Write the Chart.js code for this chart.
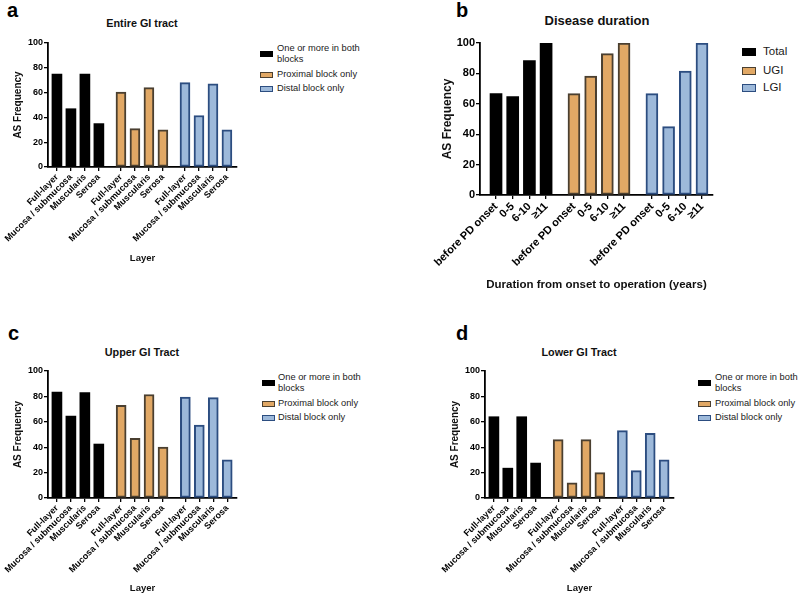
<!DOCTYPE html>
<html>
<head>
<meta charset="utf-8">
<script src="https://cdn.jsdelivr.net/npm/chart.js@4.4.1/dist/chart.umd.min.js"></script>
<style>
  body { margin: 0; background: #fff; font-family: 'Liberation Sans', Arial, sans-serif; }
  #fig { position: relative; width: 800px; height: 595px; overflow: hidden; }
  .box { position: absolute; }
  .letter { position: absolute; font-weight: bold; font-size: 20px; line-height: 1; color: #000; }
  .ttl { position: absolute; font-weight: bold; white-space: nowrap; color: #111; transform: translate(-50%, -50%); }
  .leg-sw { position: absolute; box-sizing: border-box; }
  .leg-tx { position: absolute; color: #1a1a1a; line-height: 11px; }
</style>
</head>
<body>
<div id="fig"></div>
<script>
// ---- data ----
const LAYERS = ['Full-layer', 'Mucosa / submucosa', 'Muscularis', 'Serosa'];
const DURATIONS = ['before PD onset', '0-5', '6-10', '≥11'];
const BLOCK_SERIES = ['One or more in both blocks', 'Proximal block only', 'Distal block only'];
const SITE_SERIES = ['Total', 'UGI', 'LGI'];

const ENTIRE_BOTH = [75, 47, 75, 35];
const ENTIRE_PROX = [60.5, 31, 64, 30];
const ENTIRE_DIST = [68, 41.5, 67, 30];

const DUR_TOTAL = [66.7, 64.7, 88.5, 100];
const DUR_UGI   = [66.7, 78.3, 93, 100];
const DUR_LGI   = [66.7, 45, 81.5, 100];

const UPPER_BOTH = [83.5, 64.5, 83, 42.5];
const UPPER_PROX = [73, 47, 81.5, 40];
const UPPER_DIST = [79.5, 57.5, 79, 30];

const LOWER_BOTH = [64, 23.5, 64, 27.5];
const LOWER_PROX = [46, 12, 46, 20];
const LOWER_DIST = [53, 21.5, 51, 30];

const Y_TICKS = [0, 20, 40, 60, 80, 100];

// ---- style ----
const FILLS = ['#000000', '#E1A865', '#9DB9DA'];
const EDGES = ['#000000', '#4A3F30', '#2C4D80'];
const FONT = "'Liberation Sans', Arial, sans-serif";

const fig = document.getElementById('fig');

function addText(cls, text, x, y, size) {
    const el = document.createElement('div');
    el.className = cls;
    el.textContent = text;
    el.style.left = x + 'px';
    el.style.top = y + 'px';
    if (size) el.style.fontSize = size + 'px';
    fig.appendChild(el);
}

function addLegend(names, sx, tx, rows, swW, swH, size, width) {
    names.forEach((name, g) => {
        const sw = document.createElement('div');
        sw.className = 'leg-sw';
        sw.style.cssText += `left:${sx}px;top:${rows[g].sw - swH / 2}px;width:${swW}px;height:${swH}px;` +
            `background:${FILLS[g]};border:${g ? 1.7 : 0}px solid ${EDGES[g]};`;
        fig.appendChild(sw);
        const t = document.createElement('div');
        t.className = 'leg-tx';
        t.textContent = name;
        t.style.cssText += `left:${tx}px;top:${rows[g].tx}px;font-size:${size}px;width:${width}px;line-height:${size + 1.5}px;`;
        fig.appendChild(t);
    });
}

// p: box (page px), area (page px), series, labels, group step, font sizes
function buildPanel(p) {
    const wrap = document.createElement('div');
    wrap.className = 'box';
    wrap.style.cssText += `left:${p.box.x}px;top:${p.box.y}px;width:${p.box.w}px;height:${p.box.h}px;`;
    const canvas = document.createElement('canvas');
    wrap.appendChild(canvas);
    fig.appendChild(wrap);

    const positions = [];
    const tickLabels = [];
    const datasets = p.series.map((vals, g) => {
        vals.forEach((v, i) => { positions.push(g * p.groupStep + i); tickLabels.push(p.labels[i]); });
        return {
            label: p.names[g],
            data: vals.map((v, i) => ({ x: g * p.groupStep + i, y: v })),
            backgroundColor: FILLS[g],
            borderColor: EDGES[g],
            borderWidth: g ? 2 : 0,
            borderSkipped: false,
            barThickness: p.barW,
            grouped: false,
        };
    });

    const yW = p.area.left - p.box.x;
    const xH = p.box.y + p.box.h - p.area.bottom;
    const yLh = p.yTitleSize * 1.2;
    const xLh = p.xTitleSize * 1.2;

    new Chart(canvas, {
        type: 'bar',
        data: { datasets },
        options: {
            responsive: true,
            maintainAspectRatio: false,
            animation: false,
            layout: { padding: { top: p.area.top - p.box.y, right: p.box.x + p.box.w - p.area.right, left: 0, bottom: 0 } },
            plugins: { legend: { display: false }, tooltip: { enabled: false } },
            scales: {
                x: {
                    type: 'linear',
                    offset: false,
                    min: p.xMin,
                    max: p.xMax,
                    afterBuildTicks: s => { s.ticks = positions.map(v => ({ value: v })); },
                    // fixed height; rotated labels must not push the plot area
                    afterFit: s => { s.height = xH; s.paddingLeft = 0; s.paddingRight = 0; },
                    ticks: {
                        autoSkip: false,
                        minRotation: 45,
                        maxRotation: 45,
                        padding: 1,
                        color: '#000',
                        font: { family: FONT, size: p.tickSize, weight: 'bold' },
                        callback: (v, i) => tickLabels[i],
                    },
                    grid: { offset: false, drawOnChartArea: false, drawTicks: true, tickLength: 4, color: '#000', lineWidth: 1.3 },
                    border: { display: true, color: '#000', width: 1.8 },
                    title: {
                        display: true, text: p.xTitle, color: '#111',
                        font: { family: FONT, size: p.xTitleSize, weight: 'bold' },
                        padding: { top: 0, bottom: p.box.y + p.box.h - p.xTitleY - xLh / 2 },
                    },
                },
                y: {
                    min: 0,
                    max: 100,
                    afterBuildTicks: s => { s.ticks = Y_TICKS.map(v => ({ value: v })); },
                    afterFit: s => { s.width = yW; s.paddingTop = 0; s.paddingBottom = 0; },
                    ticks: {
                        padding: 1,
                        color: '#000',
                        font: { family: FONT, size: p.tickSize, weight: 'bold' },
                    },
                    grid: { drawOnChartArea: false, drawTicks: true, tickLength: 4, color: '#000', lineWidth: 1.3 },
                    border: { display: true, color: '#000', width: 1.8 },
                    title: {
                        display: true, text: 'AS Frequency', color: '#111',
                        font: { family: FONT, size: p.yTitleSize, weight: 'bold' },
                        padding: { top: p.yTitleX - p.box.x - yLh / 2, bottom: 0 },
                    },
                },
            },
        },
    });
}

// ---- panel a ----
addText('letter', 'a', 7, 0);
addText('ttl', 'Entire GI tract', 142, 23, 10.8);
buildPanel({
    box: { x: 0, y: 0, w: 250, h: 300 }, area: { left: 48, top: 43, right: 237, bottom: 167 },
    series: [ENTIRE_BOTH, ENTIRE_PROX, ENTIRE_DIST], names: BLOCK_SERIES, labels: LAYERS,
    groupStep: 4.58, xMin: -0.64, xMax: 12.88, barW: 10,
    tickSize: 9, yTitleSize: 10, xTitleSize: 9.5, xTitle: 'Layer', yTitleX: 18, xTitleY: 258,
});
addLegend(BLOCK_SERIES, 260, 277, [{ sw: 54, tx: 43 }, { sw: 75, tx: 69 }, { sw: 89, tx: 83 }], 13, 6, 9.3, 95);

// ---- panel b ----
addText('letter', 'b', 456, 0);
addText('ttl', 'Disease duration', 597, 20, 13);
buildPanel({
    box: { x: 400, y: 0, w: 330, h: 300 }, area: { left: 480, top: 43, right: 713, bottom: 195 },
    series: [DUR_TOTAL, DUR_UGI, DUR_LGI], names: SITE_SERIES, labels: DURATIONS,
    groupStep: 4.67, xMin: -0.96, xMax: 13.0, barW: 12,
    tickSize: 11, yTitleSize: 12, xTitleSize: 11.5, xTitle: 'Duration from onset to operation (years)',
    yTitleX: 448, xTitleY: 285,
});
addLegend(SITE_SERIES, 742, 763, [{ sw: 52, tx: 45 }, { sw: 71, tx: 64 }, { sw: 88, tx: 81 }], 14, 8, 11.5, 60);

// ---- panel c ----
addText('letter', 'c', 8, 323);
addText('ttl', 'Upper GI Tract', 142, 352, 10.8);
buildPanel({
    box: { x: 0, y: 300, w: 250, h: 295 }, area: { left: 48, top: 371, right: 237, bottom: 498 },
    series: [UPPER_BOTH, UPPER_PROX, UPPER_DIST], names: BLOCK_SERIES, labels: LAYERS,
    groupStep: 4.6, xMin: -0.64, xMax: 12.9, barW: 10,
    tickSize: 9, yTitleSize: 10, xTitleSize: 9.5, xTitle: 'Layer', yTitleX: 18, xTitleY: 588,
});
addLegend(BLOCK_SERIES, 262, 278, [{ sw: 383, tx: 372 }, { sw: 404, tx: 398 }, { sw: 418, tx: 412 }], 13, 6, 9.3, 95);

// ---- panel d ----
addText('letter', 'd', 456, 323);
addText('ttl', 'Lower GI Tract', 579, 352, 10.8);
buildPanel({
    box: { x: 400, y: 300, w: 290, h: 295 }, area: { left: 485, top: 371, right: 674, bottom: 498 },
    series: [LOWER_BOTH, LOWER_PROX, LOWER_DIST], names: BLOCK_SERIES, labels: LAYERS,
    groupStep: 4.62, xMin: -0.64, xMax: 12.95, barW: 10,
    tickSize: 9, yTitleSize: 10, xTitleSize: 9.5, xTitle: 'Layer', yTitleX: 455, xTitleY: 588,
});
addLegend(BLOCK_SERIES, 698, 715, [{ sw: 383, tx: 372 }, { sw: 404, tx: 398 }, { sw: 418, tx: 412 }], 13, 6, 9.3, 90);
</script>
</body>
</html>
